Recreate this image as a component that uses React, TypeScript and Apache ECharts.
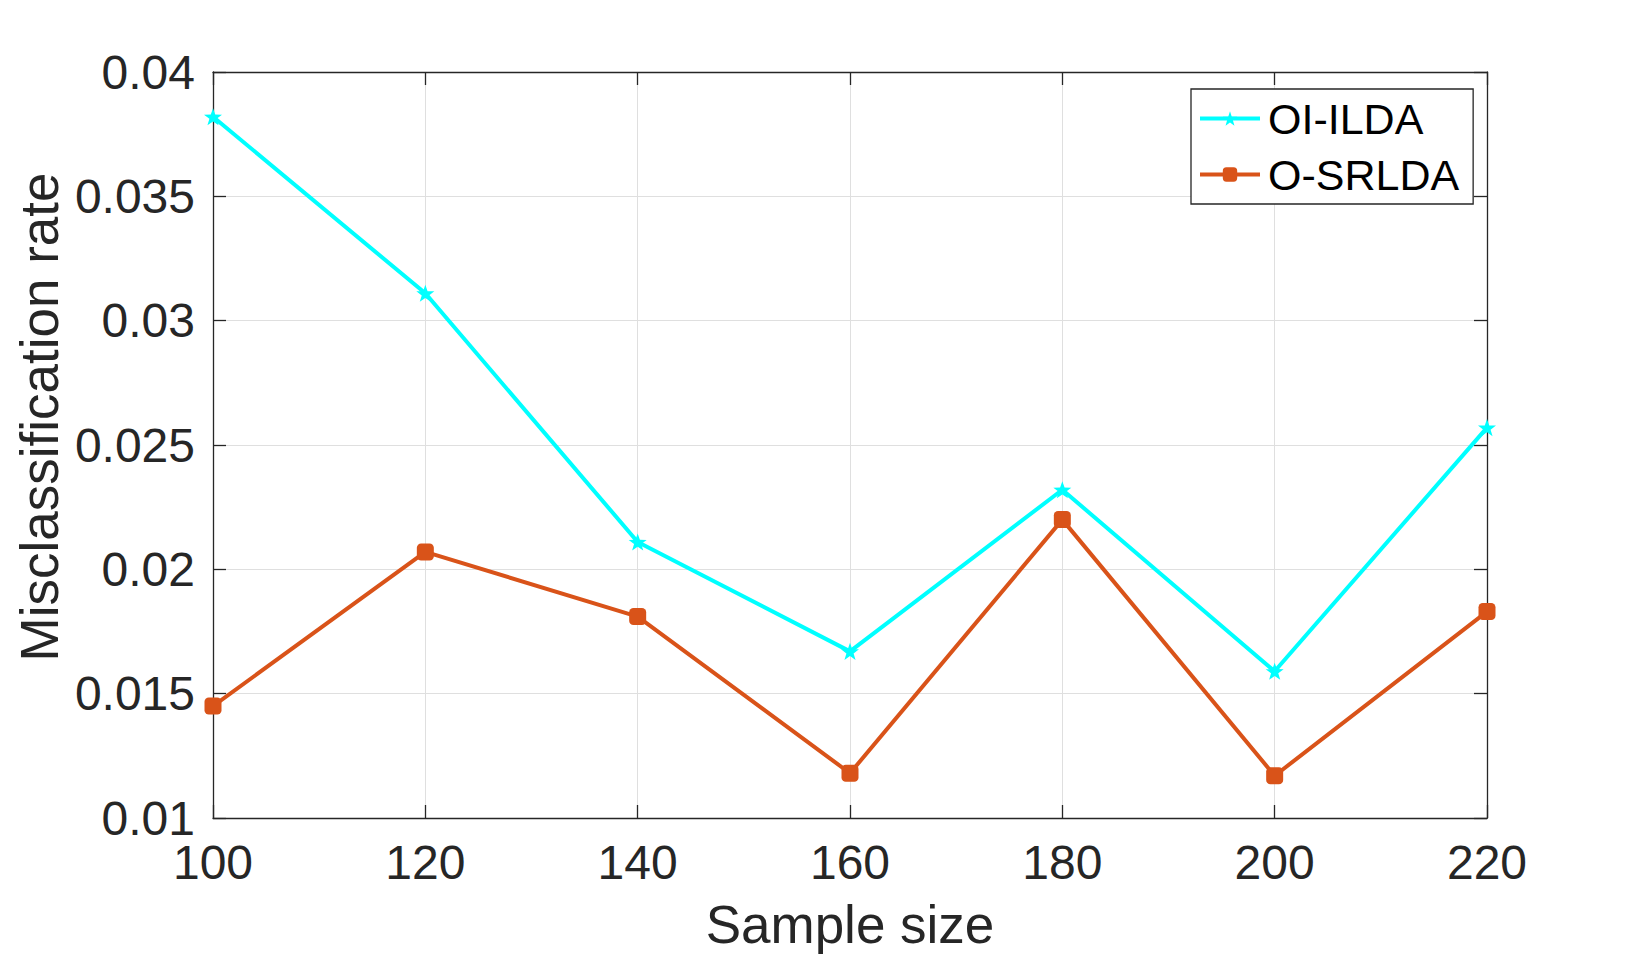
import React, { useEffect, useRef } from "react";
import * as echarts from "echarts";

const sampleSizes = [100, 120, 140, 160, 180, 200, 220];
const oiIlda = [0.0382, 0.0311, 0.0211, 0.0167, 0.0232, 0.0159, 0.0257];
const oSrlda = [0.0145, 0.0207, 0.0181, 0.0118, 0.022, 0.0117, 0.0183];
const seriesNames = ["OI-ILDA", "O-SRLDA"];
const xTitle = "Sample size";
const yTitle = "Misclassification rate";

const STAR =
  "path://M0,-10 L2.35,-3.24 L9.51,-3.09 L3.8,1.24 L5.88,8.09 L0,4 L-5.88,8.09 L-3.8,1.24 L-9.51,-3.09 L-2.35,-3.24 Z";

const FONT = "'Liberation Sans', Arial, Helvetica, sans-serif";
const AXIS_COLOR = "#262626";
const GRID_COLOR = "#dfdfdf";

export default function App() {
  const ref = useRef<HTMLDivElement>(null);

  useEffect(() => {
    if (!ref.current) return;
    const chart = echarts.init(ref.current, null, { renderer: "svg" });

    const xCommon = {
      type: "value" as const,
      min: 100,
      max: 220,
      interval: 20,
      axisLine: { show: true, lineStyle: { color: AXIS_COLOR, width: 1.3 } },
      axisTick: { show: true, inside: true, length: 13, lineStyle: { color: AXIS_COLOR, width: 1.3 } },
      splitLine: { show: false },
    };
    const yCommon = {
      type: "value" as const,
      min: 0.01,
      max: 0.04,
      interval: 0.005,
      axisLine: { show: true, lineStyle: { color: AXIS_COLOR, width: 1.3 } },
      axisTick: { show: true, inside: true, length: 13, lineStyle: { color: AXIS_COLOR, width: 1.3 } },
      splitLine: { show: false },
    };

    chart.setOption({
      animation: false,
      backgroundColor: "#ffffff",
      textStyle: { fontFamily: FONT },
      grid: { left: 213, top: 72, right: 155, bottom: 140 },
      xAxis: [
        {
          ...xCommon,
          position: "bottom",
          name: xTitle,
          nameLocation: "middle",
          nameGap: 80,
          nameTextStyle: { fontSize: 53, color: AXIS_COLOR, fontFamily: FONT },
          axisLabel: {
            show: true,
            fontSize: 48,
            color: AXIS_COLOR,
            fontFamily: FONT,
            margin: 20,
            showMinLabel: true,
            showMaxLabel: true,
          },
          splitLine: { show: true, lineStyle: { color: GRID_COLOR, width: 1 } },
        },
        {
          ...xCommon,
          position: "top",
          axisLabel: { show: false },
        },
      ],
      yAxis: [
        {
          ...yCommon,
          position: "left",
          axisLabel: {
            show: true,
            fontSize: 48,
            color: AXIS_COLOR,
            fontFamily: FONT,
            margin: 18,
            showMinLabel: true,
            showMaxLabel: true,
            formatter: (v: number) => String(parseFloat(v.toFixed(4))),
          },
          splitLine: { show: true, lineStyle: { color: GRID_COLOR, width: 1 } },
        },
        {
          ...yCommon,
          position: "right",
          axisLabel: { show: false },
        },
      ],
      legend: {
        show: true,
        orient: "vertical",
        left: 1191,
        top: 89,
        width: 279,
        padding: [8, 14, 8, 7],
        itemGap: 13,
        itemWidth: 60,
        itemHeight: 18,
        backgroundColor: "#ffffff",
        borderColor: AXIS_COLOR,
        borderWidth: 1.3,
        borderRadius: 0,
        lineStyle: { width: 4 },
        textStyle: { fontSize: 43, color: "#000000", fontFamily: FONT, padding: [0, 0, 0, 3] },
        data: seriesNames,
      },
      graphic: [
        {
          type: "text",
          x: 39,
          y: 417,
          rotation: Math.PI / 2,
          style: {
            text: yTitle,
            fontSize: 53,
            fontFamily: FONT,
            fill: AXIS_COLOR,
            textAlign: "center",
            textVerticalAlign: "middle",
          },
        },
      ],
      series: [
        {
          name: seriesNames[0],
          type: "line",
          xAxisIndex: 0,
          yAxisIndex: 0,
          data: sampleSizes.map((x, i) => [x, oiIlda[i]]),
          symbol: STAR,
          symbolKeepAspect: true,
          symbolSize: 18,
          showSymbol: true,
          lineStyle: { color: "#00ffff", width: 4 },
          itemStyle: { color: "#00ffff", borderWidth: 0 },
          z: 3,
        },
        {
          name: seriesNames[1],
          type: "line",
          xAxisIndex: 0,
          yAxisIndex: 0,
          data: sampleSizes.map((x, i) => [x, oSrlda[i]]),
          symbol: "roundRect",
          symbolSize: 17,
          showSymbol: true,
          lineStyle: { color: "#d95319", width: 4 },
          itemStyle: { color: "#d95319", borderWidth: 0 },
          z: 3,
        },
      ],
    });

    return () => chart.dispose();
  }, []);

  return (
    <div
      ref={ref}
      style={{ position: "absolute", left: 0, top: 0, width: 1642, height: 958, background: "#fff" }}
    />
  );
}
